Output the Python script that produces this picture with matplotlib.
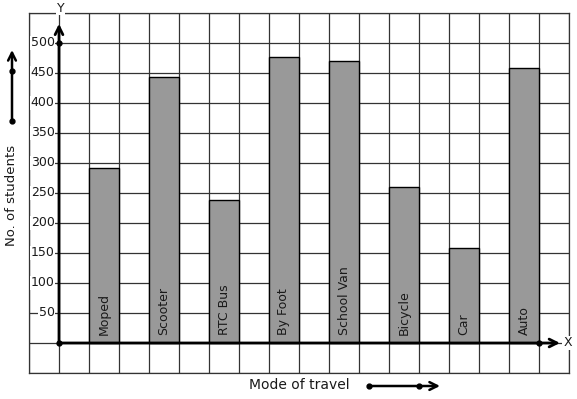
import matplotlib
matplotlib.use("Agg")
import matplotlib.pyplot as plt
import numpy as np

# data
modes = ["Moped", "Scooter", "RTC Bus", "By Foot", "School Van", "Bicycle", "Car", "Auto"]
students = [291, 443, 238, 477, 470, 260, 158, 458]
y_labels = [50, 100, 150, 200, 250, 300, 350, 400, 450, 500]

W, H = 577, 399
fig = plt.figure(figsize=(W / 100, H / 100), dpi=100)
# frame of the grid paper: x 29..569, y 13..373 (image pixels)
ax = fig.add_axes([29 / W, (H - 373) / H, 540 / W, 360 / H])
ax.set_xlim(-1, 17)
ax.set_ylim(-50, 550)

ink = "#1a1a1a"
ax.set_xticks(np.arange(-1, 18, 1))
ax.set_yticks(np.arange(-50, 551, 50))
ax.grid(True, color="#333333", linewidth=0.9)
ax.set_axisbelow(True)
ax.tick_params(length=0, labelbottom=False, labelleft=False)
for s in ax.spines.values():
    s.set_color("#333333")
    s.set_linewidth(0.9)

# bars sit on every other grid cell, starting at x=1
xs = np.arange(len(modes)) * 2 + 1
ax.bar(xs, students, width=1, align="edge", color="#999999",
       edgecolor="black", linewidth=1.0, zorder=2)
for x, name in zip(xs, modes):
    ax.text(x + 0.5, 14, name, rotation=90, ha="center", va="bottom",
            fontsize=9, color=ink, zorder=3)

# axes with arrows
ax.annotate("", xy=(0, 532), xytext=(0, 0),
            arrowprops=dict(arrowstyle="->", lw=2, color="black",
                            shrinkA=0, shrinkB=0, mutation_scale=14), zorder=4)
ax.annotate("", xy=(16.7, 0), xytext=(0, 0),
            arrowprops=dict(arrowstyle="->", lw=2, color="black",
                            shrinkA=0, shrinkB=0, mutation_scale=14), zorder=4)
ax.plot([0, 0, 16], [0, 500, 0], "o", color="black", ms=3.5, zorder=5, clip_on=False)

# y value labels with white backing (grid line peeks out as a tick)
for v in y_labels:
    ax.text(-0.15, v, str(v), ha="right", va="center", fontsize=9, color=ink,
            bbox=dict(facecolor="white", edgecolor="none", pad=0.3), zorder=3)

ax.text(0.05, 558, "Y", ha="center", va="center", fontsize=9, color=ink,
        bbox=dict(facecolor="white", edgecolor="none", pad=0.5), clip_on=False, zorder=6)
ax.text(16.95, 0, "X", ha="center", va="center", fontsize=9, color=ink,
        bbox=dict(facecolor="white", edgecolor="none", pad=0.5), clip_on=False, zorder=6)

# axis titles and their little arrows, placed in figure pixels
fig.text(12 / W, (H - 195) / H, "No. of students", rotation=90,
         ha="center", va="center", fontsize=9.5, color=ink)
fig.text(299 / W, (H - 385) / H, "Mode of travel", ha="center", va="center",
         fontsize=10, color=ink)

ax.annotate("", xy=(12, H - 50), xytext=(12, H - 121), xycoords="figure pixels",
            textcoords="figure pixels",
            arrowprops=dict(arrowstyle="->", lw=1.8, color="black",
                            shrinkA=0, shrinkB=0, mutation_scale=14))
ax.plot([12, 12], [H - 121, H - 71], "o", color="black", ms=3.5,
        transform=None, clip_on=False)
ax.annotate("", xy=(440, H - 386), xytext=(369, H - 386), xycoords="figure pixels",
            textcoords="figure pixels",
            arrowprops=dict(arrowstyle="->", lw=1.8, color="black",
                            shrinkA=0, shrinkB=0, mutation_scale=14))
ax.plot([369, 419], [H - 386, H - 386], "o", color="black", ms=3.5,
        transform=None, clip_on=False)

fig.savefig("out.png", dpi=100)
